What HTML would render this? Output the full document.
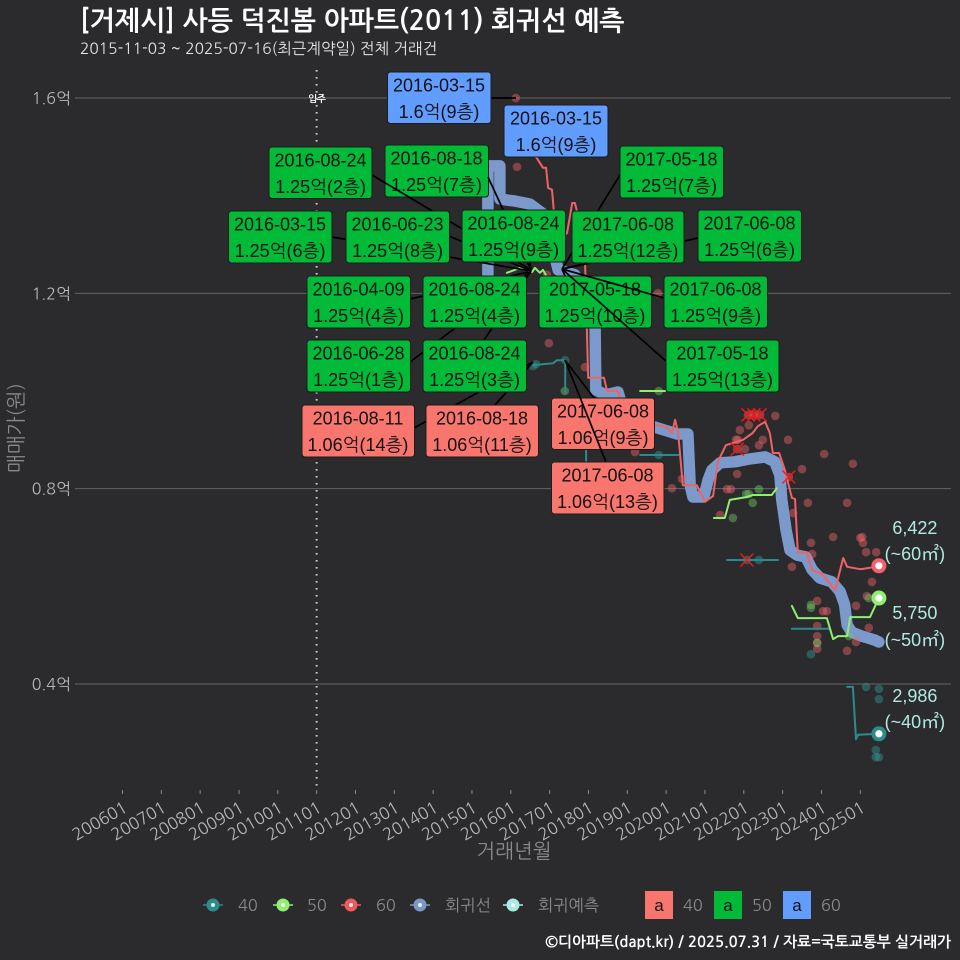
<!DOCTYPE html>
<html lang="ko">
<head>
<meta charset="utf-8">
<title>사등 덕진봄 아파트 회귀선 예측</title>
<style>
html,body{margin:0;padding:0;background:#2b2b2d;}
#chart{display:block;width:960px;height:960px;background:#2b2b2d;}
text{font-family:"NanumGothic","Noto Sans CJK KR",sans-serif;}
.lb text{font-family:"Liberation Sans","NanumGothic",sans-serif;font-size:18px;fill:#111;text-anchor:middle;}
.lb rect{stroke:#1c1c1c;stroke-width:1;}
.ld{stroke:#000;stroke-width:1.7;fill:none;}
.g rect{fill:#00BA38;}
.b rect{fill:#619CFF;}
.r rect{fill:#F8766D;}
.pl{font-family:"Liberation Sans","NanumGothic",sans-serif !important;font-size:18px;fill:#aeeae0;text-anchor:middle;}
.tk{font-size:16px;fill:#b8b8b8;}
.lg{font-size:16.3px;fill:#8c8c8c;}
</style>
</head>
<body>
<svg id="chart" xmlns="http://www.w3.org/2000/svg" width="960" height="960" viewBox="0 0 960 960">
  <text x="80" y="30" font-size="26.8" font-weight="700" fill="#ffffff">[거제시] 사등 덕진봄 아파트(2011) 회귀선 예측</text>
  <text x="80" y="54" font-size="15.5" fill="#e6e6e6">2015-11-03 ~ 2025-07-16(최근계약일) 전체 거래건</text>
  <g id="axes"></g>
  <g id="marks"></g>

  <g id="labels">
    <g class="lb r"><path class="ld" d="M414 428L533 362"/><rect x="302" y="405" width="112.5" height="52" rx="3"/><text x="358" y="424.5">2016-08-11</text><text x="358" y="451">1.06억(14층)</text></g>
    <g class="lb r"><path class="ld" d="M495 405L533 362"/><rect x="426" y="405" width="112.5" height="52" rx="3"/><text x="482" y="424.5">2016-08-18</text><text x="482" y="451">1.06억(11층)</text></g>
    <g class="lb b"><path class="ld" d="M491 98L516 98"/><rect x="387.5" y="72" width="103.5" height="51.5" rx="3"/><text x="439" y="91.5">2016-03-15</text><text x="439" y="118">1.6억(9층)</text></g>
    <g class="lb b"><rect x="504" y="105" width="104" height="52" rx="3"/><text x="556" y="124.5">2016-03-15</text><text x="556" y="151">1.6억(9층)</text></g>
    <g class="lb g"><rect x="385" y="145" width="103.5" height="52" rx="3"/><text x="436.5" y="164.5">2016-08-18</text><text x="436.5" y="191">1.25억(7층)</text></g>
    <path class="ld" d="M488 177L531 270"/>
    <g class="lb g"><path class="ld" d="M372 175L531 270"/><rect x="269" y="147" width="103" height="51.5" rx="3"/><text x="320.5" y="166.5">2016-08-24</text><text x="320.5" y="193">1.25억(2층)</text></g>
    <g class="lb g"><path class="ld" d="M332 237L531 271"/><rect x="228.5" y="211" width="103.5" height="52" rx="3"/><text x="280" y="230.5">2016-03-15</text><text x="280" y="257">1.25억(6층)</text></g>
    <g class="lb g"><path class="ld" d="M449 236L531 271"/><rect x="346" y="211" width="103.5" height="52" rx="3"/><text x="397.5" y="230.5">2016-06-23</text><text x="397.5" y="257">1.25억(8층)</text></g>
    <g class="lb g"><path class="ld" d="M530 262L531 271"/><rect x="462" y="210" width="103.5" height="52" rx="3"/><text x="513.5" y="229.5">2016-08-24</text><text x="513.5" y="256">1.25억(9층)</text></g>
    <g class="lb g"><path class="ld" d="M620 175L562 269"/><rect x="620" y="146" width="103.5" height="52" rx="3"/><text x="671.5" y="165.5">2017-05-18</text><text x="671.5" y="192">1.25억(7층)</text></g>
    <g class="lb g"><path class="ld" d="M698 238L562 269"/><rect x="698" y="210" width="103.5" height="52" rx="3"/><text x="749.5" y="229.5">2017-06-08</text><text x="749.5" y="256">1.25억(6층)</text></g>
    <g class="lb g"><path class="ld" d="M590 263L562 269"/><rect x="572" y="211" width="112" height="52" rx="3"/><text x="628" y="230.5">2017-06-08</text><text x="628" y="257">1.25억(12층)</text></g>
    <g class="lb g"><path class="ld" d="M410 362L531 271"/><rect x="307" y="340" width="103.5" height="52" rx="3"/><text x="358.5" y="359.5">2016-06-28</text><text x="358.5" y="386">1.25억(1층)</text></g>
    <g class="lb g"><path class="ld" d="M484 340L531 271"/><rect x="423" y="340" width="103.5" height="52" rx="3"/><text x="474.5" y="359.5">2016-08-24</text><text x="474.5" y="386">1.25억(3층)</text></g>
    <g class="lb g"><path class="ld" d="M410 299L528 272"/><rect x="307" y="276" width="103.5" height="52" rx="3"/><text x="358.5" y="295.5">2016-04-09</text><text x="358.5" y="322">1.25억(4층)</text></g>
    <g class="lb g"><path class="ld" d="M526 278L531 271"/><rect x="423" y="276" width="103.5" height="52" rx="3"/><text x="474.5" y="295.5">2016-08-24</text><text x="474.5" y="322">1.25억(4층)</text></g>
    <g class="lb g"><path class="ld" d="M565 276L562 269"/><rect x="539" y="276" width="112.5" height="52" rx="3"/><text x="595" y="295.5">2017-05-18</text><text x="595" y="322">1.25억(10층)</text></g>
    <g class="lb g"><path class="ld" d="M664 298L562 269"/><rect x="664" y="276" width="103.5" height="52" rx="3"/><text x="715.5" y="295.5">2017-06-08</text><text x="715.5" y="322">1.25억(9층)</text></g>
    <g class="lb g"><path class="ld" d="M667 362L562 269"/><rect x="666" y="340" width="113" height="52" rx="3"/><text x="722.5" y="359.5">2017-05-18</text><text x="722.5" y="386">1.25억(13층)</text></g>
    <g class="lb r"><path class="ld" d="M594 398L565 360"/><rect x="551.5" y="398" width="103" height="51.5" rx="3"/><text x="603" y="417.5">2017-06-08</text><text x="603" y="444">1.06억(9층)</text></g>
    <path class="ld" d="M606 462L565 360"/>
    <g class="lb r"><rect x="551.5" y="462" width="112.5" height="52" rx="3"/><text x="607.5" y="481.5">2017-06-08</text><text x="607.5" y="508">1.06억(13층)</text></g>
    <text x="317" y="102" font-size="9.5" font-weight="700" fill="#ffffff" text-anchor="middle">입주</text>
  </g>

  <text x="514" y="858" font-size="20" fill="#8a8a8a" text-anchor="middle">거래년월</text>
  <text transform="translate(23,428) rotate(-90)" font-size="20" fill="#8a8a8a" text-anchor="middle">매매가(원)</text>

  <g>
    <g><path d="M203 905H223" stroke="#2e8b8b" stroke-width="1.5"/><circle cx="213" cy="905" r="6.5" fill="#2e8b8b"/><circle cx="213" cy="905" r="2" fill="#d8f0f0"/><text class="lg" x="238" y="911">40</text></g>
    <g><path d="M273 905H293" stroke="#90ee70" stroke-width="1.5"/><circle cx="283" cy="905" r="6.5" fill="#90ee70"/><circle cx="283" cy="905" r="2" fill="#eefde8"/><text class="lg" x="307" y="911">50</text></g>
    <g><path d="M341 905H361" stroke="#ee5a5a" stroke-width="1.5"/><circle cx="351" cy="905" r="6.5" fill="#ee5a5a"/><circle cx="351" cy="905" r="2" fill="#fde8e8"/><text class="lg" x="376" y="911">60</text></g>
    <g><path d="M410 905H430" stroke="#7b97c5" stroke-width="1.5"/><circle cx="420" cy="905" r="6.5" fill="#7b97c5"/><circle cx="420" cy="905" r="2" fill="#e8eef8"/><text class="lg" x="445" y="911">회귀선</text></g>
    <g><path d="M503 905H523" stroke="#a8ede5" stroke-width="1.5"/><circle cx="513" cy="905" r="6.5" fill="#a8ede5"/><circle cx="513" cy="905" r="2" fill="#ffffff"/><text class="lg" x="538" y="911">회귀예측</text></g>
  </g>
  <g>
    <g><rect x="645" y="891" width="28" height="28" fill="#F8766D"/><text x="659" y="911" font-size="17" fill="#111" text-anchor="middle" style="font-family:'Liberation Sans',sans-serif">a</text><text class="lg" x="683" y="911">40</text></g>
    <g><rect x="714" y="891" width="28" height="28" fill="#00BA38"/><text x="728" y="911" font-size="17" fill="#111" text-anchor="middle" style="font-family:'Liberation Sans',sans-serif">a</text><text class="lg" x="752" y="911">50</text></g>
    <g><rect x="783" y="891" width="28" height="28" fill="#619CFF"/><text x="797" y="911" font-size="17" fill="#111" text-anchor="middle" style="font-family:'Liberation Sans',sans-serif">a</text><text class="lg" x="821" y="911">60</text></g>
  </g>
  <text x="951" y="947" font-size="14.9" font-weight="700" fill="#ffffff" text-anchor="end">©디아파트(dapt.kr) / 2025.07.31 / 자료=국토교통부 실거래가</text>
</svg>
<script>
const yTicks = [1.6, 1.2, 0.8, 0.4];
const yTickLabels = ['1.6억', '1.2억', '0.8억', '0.4억'];
const xTickYears = [2006,2007,2008,2009,2010,2011,2012,2013,2014,2015,2016,2017,2018,2019,2020,2021,2022,2023,2024,2025];
const xTickLabels = ['200601','200701','200801','200901','201001','201101','201201','201301','201401','201501','201601','201701','201801','201901','202001','202101','202201','202301','202401','202501'];
const moveInYear = 2011;

const regDates = [2015.41,2015.41,2015.72,2015.72,2016.11,2016.49,2016.88,2017.22,2017.65,2018.17,2018.19,2018.45,2018.76,2018.86,2019.33,2019.71,2020.28,2020.56,2020.62,2020.69,2020.97,2021.08,2021.18,2021.39,2021.77,2022.16,2022.55,2022.8,2022.93,2022.98,2023.09,2023.19,2023.37,2023.6,2023.76,2023.96,2024.27,2024.48,2024.6,2024.66,2024.78,2025.04,2025.37,2025.48];
const regValues = [1.238,1.461,1.461,1.393,1.389,1.383,1.36,1.248,1.238,1.135,1.002,0.992,0.998,0.971,0.932,0.926,0.912,0.912,0.807,0.783,0.783,0.818,0.838,0.853,0.855,0.861,0.865,0.855,0.828,0.777,0.715,0.674,0.664,0.66,0.634,0.617,0.609,0.589,0.562,0.521,0.506,0.498,0.49,0.486];

const line60Dates = [2016.49,2016.67,2016.83,2016.91,2016.96,2017.06,2017.11,2017.27,2017.45,2017.58,2017.65,2017.73,2017.91,2017.96,2017.99,2018.4,2018.48,2018.76,2018.82,2019.33,2019.76,2020.02,2020.15,2020.23,2020.31,2020.43,2020.79,2021,2021.21,2021.33,2021.54,2021.98,2022.23,2022.36,2022.55,2022.67,2022.75,2022.91,2023.06,2023.24,2023.32,2023.39,2023.63,2023.76,2024.02,2024.35,2024.56,2024.66,2025,2025.25,2025.48];
const line60Values = [1.494,1.477,1.457,1.457,1.416,1.412,1.367,1.309,1.324,1.385,1.385,1.36,1.268,1.125,1.027,1.027,1.0,1.0,0.982,0.94,0.93,0.926,0.914,0.941,0.914,0.807,0.807,0.773,0.785,0.855,0.889,0.9,0.914,0.928,0.937,0.914,0.873,0.873,0.838,0.781,0.779,0.67,0.668,0.633,0.625,0.592,0.658,0.64,0.635,0.638,0.642];

const line50Dates = [2015.9,2016.24,2016.55,2016.62,2016.75,2016.83,2016.9,null,2019.33,2019.97,null,2021.23,2021.51,2021.64,2022.08,2022.23,2022.72,2022.85,null,2023.24,2023.39,2024.14,2024.3,2024.43,2024.66,2024.74,2025.25,2025.48];
const line50Values = [1.242,1.252,1.244,1.252,1.242,1.248,1.238,null,1.0,1.0,null,0.74,0.74,0.777,0.783,0.787,0.787,0.801,null,0.56,0.535,0.535,0.492,0.498,0.498,0.537,0.537,0.576];

const line40Dates = [2016.57,2017.09,2017.19,2017.4,2017.4,null,2017.94,2017.94,null,2019.33,2020.31,null,2021.57,2022.88,null,2023.24,2024.22,null,2024.66,2024.81,2024.89,2024.94,2025.48];
const line40Values = [1.053,1.057,1.063,1.063,0.996,null,0.879,0.848,null,0.869,0.869,null,0.654,0.654,null,0.513,0.513,null,0.394,0.394,0.287,0.296,0.298];

const deals60Dates = [2016.13,2016.16,2016.98,2016.93,2017.91,2019.79,2019.2,2020.15,2020.41,2022.11,2022.42,2022.26,2022.81,2022.13,2021.9,2021.85,2021.8,2022.49,2022.39,2023.14,2021.83,2022.03,2024.07,2024.81,2023.5,2021.83,2023.16,2021.57,2021.67,2023.65,2024.66,2021.39,2023.27,2024.3,2025,2025.07,2025.05,2023.73,2025.15,2025.41,2023.76,2023.24,2025.3,2023.89,2025.17,2024.89,2024.04,2024.14,2023.89,2023.89,2025.22,2024.89,2023.89,2023.89,2024.66];
const deals60Values = [1.6,1.459,1.098,1.238,1.049,1.2,0.875,0.801,0.82,0.951,0.951,0.951,0.949,0.93,0.92,0.9,0.9,0.9,0.889,0.9,0.881,0.881,0.871,0.851,0.84,0.83,0.824,0.799,0.799,0.771,0.771,0.746,0.75,0.701,0.699,0.689,0.701,0.689,0.67,0.67,0.666,0.64,0.609,0.57,0.58,0.56,0.549,0.549,0.519,0.498,0.515,0.486,0.484,0.472,0.468];
const deals50Dates = [2017.39,2019.81,2022.39,2022.13,2022.06,2022.23,2021.72,2023.73,2023.73,2025.22,2024.71,2023.89];
const deals50Values = [1.0,1.0,0.799,0.789,0.789,0.771,0.74,0.562,0.556,0.576,0.498,0.484];
const deals40Dates = [2016.57,2016.65,2017.4,2019.81,2022.08,2022.39,2023.73,2025.15,2025.48,2025.48,2025.4,2025.4,2025.48];
const deals40Values = [1.051,1.055,1.063,0.869,0.654,0.654,0.461,0.394,0.39,0.369,0.265,0.25,0.25];

const outlierDates = [2022.11,2022.26,2022.42,2021.83,2023.16,2022.08];
const outlierValues = [0.951,0.951,0.951,0.881,0.824,0.654];

const forecastDates = [2025.48,2025.48,2025.48];
const forecastValues = [0.642,0.576,0.298];
const forecastColors = ['#f2606a','#90ee70','#2e8b8b'];
const forecastPrices = ['6,422','5,750','2,986'];
const forecastAreas = ['(~60㎡)','(~50㎡)','(~40㎡)'];

const NS = 'http://www.w3.org/2000/svg';
const xScale = t => 122.5 + (t - 2006) * 38.83;
const yScale = v => 391 + (1 - v) * 488.3;
const axes = document.getElementById('axes');
const marks = document.getElementById('marks');

yTicks.forEach((v, i) => {
  const grid = document.createElementNS(NS, 'line');
  
  
  grid.setAttribute('x1', 75);
  grid.setAttribute('x2', 951);
  grid.setAttribute('y1', yScale(v));
  grid.setAttribute('y2', yScale(v));
  grid.setAttribute('stroke', '#646464');
  grid.setAttribute('stroke-width', 1);
  axes.appendChild(grid);
  const lab = document.createElementNS(NS, 'text');
  
  
  lab.setAttribute('class', 'tk');
  lab.setAttribute('x', 71);
  lab.setAttribute('y', yScale(v) + 6);
  lab.setAttribute('text-anchor', 'end');
  lab.textContent = yTickLabels[i];
  axes.appendChild(lab);
});

xTickYears.forEach((yr, i) => {
  const x = xScale(yr);
  const tick = document.createElementNS(NS, 'line');
  
  
  tick.setAttribute('x1', x);
  tick.setAttribute('x2', x);
  tick.setAttribute('y1', 790);
  tick.setAttribute('y2', 794);
  tick.setAttribute('stroke', '#8c8c8c');
  axes.appendChild(tick);
  const lab = document.createElementNS(NS, 'text');
  
  
  lab.setAttribute('class', 'tk');
  lab.setAttribute('text-anchor', 'end');
  lab.setAttribute('style', 'font-size:16.5px');
  lab.setAttribute('transform', 'translate(' + (x + 6) + ',811) rotate(-30)');
  lab.textContent = xTickLabels[i];
  axes.appendChild(lab);
});

const moveIn = document.createElementNS(NS, 'line');


moveIn.setAttribute('x1', xScale(moveInYear));
moveIn.setAttribute('x2', xScale(moveInYear));
moveIn.setAttribute('y1', 70);
moveIn.setAttribute('y2', 790);
moveIn.setAttribute('stroke', '#c8c8c8');
moveIn.setAttribute('stroke-width', 2);
moveIn.setAttribute('stroke-dasharray', '1.6 5.4');
axes.appendChild(moveIn);

function drawLine(dates, values, color, width, name) {
  let pts = [];
  const flush = () => {
    if (pts.length > 1) {
      const path = document.createElementNS(NS, 'polyline');
      
      
      path.setAttribute('points', pts.join(' '));
      path.setAttribute('fill', 'none');
      path.setAttribute('stroke', color);
      path.setAttribute('stroke-width', width);
      path.setAttribute('stroke-linejoin', 'round');
      path.setAttribute('stroke-linecap', 'round');
      marks.appendChild(path);
    }
    pts = [];
  };
  dates.forEach((d, i) => {
    if (d === null) { flush(); return; }
    pts.push(xScale(d).toFixed(1) + ',' + yScale(values[i]).toFixed(1));
  });
  flush();
}

function drawDots(dates, values, color, name) {
  dates.forEach((d, i) => {
    const c = document.createElementNS(NS, 'circle');
    
    
    c.setAttribute('cx', xScale(d));
    c.setAttribute('cy', yScale(values[i]));
    c.setAttribute('r', 4.3);
    c.setAttribute('fill', color);
    c.setAttribute('fill-opacity', 0.45);
    marks.appendChild(c);
  });
}

drawLine(regDates, regValues, '#7b9acb', 11.5, 'regression-line');
drawDots(deals60Dates, deals60Values, '#f0646a', 'deal-point-60');
drawDots(deals50Dates, deals50Values, '#6fc860', 'deal-point-50');
drawDots(deals40Dates, deals40Values, '#2e9a94', 'deal-point-40');
drawLine(line40Dates, line40Values, '#2e8b8b', 2, 'trend-line-40');
drawLine(line50Dates, line50Values, '#90ee70', 2, 'trend-line-50');
drawLine(line60Dates, line60Values, '#ee6464', 2, 'trend-line-60');

outlierDates.forEach((d, i) => {
  const x = xScale(d);
  const y = yScale(outlierValues[i]);
  const cross = document.createElementNS(NS, 'path');
  
  
  cross.setAttribute('d', 'M' + (x - 6.5) + ' ' + (y - 6.5) + 'L' + (x + 6.5) + ' ' + (y + 6.5) + 'M' + (x - 6.5) + ' ' + (y + 6.5) + 'L' + (x + 6.5) + ' ' + (y - 6.5));
  cross.setAttribute('stroke', '#ff1414');
  cross.setAttribute('stroke-width', 1.4);
  cross.setAttribute('fill', 'none');
  marks.appendChild(cross);
});

forecastDates.forEach((d, i) => {
  const x = xScale(d);
  const y = yScale(forecastValues[i]);
  const ring = document.createElementNS(NS, 'circle');
  
  
  ring.setAttribute('cx', x);
  ring.setAttribute('cy', y);
  ring.setAttribute('r', 7.5);
  ring.setAttribute('fill', forecastColors[i]);
  marks.appendChild(ring);
  const core = document.createElementNS(NS, 'circle');
  
  
  core.setAttribute('cx', x);
  core.setAttribute('cy', y);
  core.setAttribute('r', 3.6);
  core.setAttribute('fill', '#ffffff');
  marks.appendChild(core);
  const price = document.createElementNS(NS, 'text');
  
  
  price.setAttribute('class', 'pl');
  price.setAttribute('x', x + 36);
  price.setAttribute('y', i === 1 ? y + 21 : y - 32);
  price.textContent = forecastPrices[i];
  marks.appendChild(price);
  const area = document.createElementNS(NS, 'text');
  
  
  area.setAttribute('class', 'pl');
  area.setAttribute('x', x + 36);
  area.setAttribute('y', i === 1 ? y + 48 : y - 6);
  area.textContent = forecastAreas[i];
  marks.appendChild(area);
});
</script>
</body>
</html>
